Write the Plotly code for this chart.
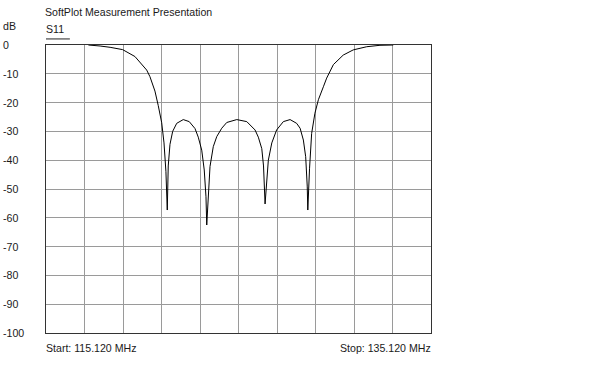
import plotly.graph_objects as go

# Frequency axis (MHz) and S11 magnitude (dB)
freq_mhz = [117.32, 117.67, 117.93, 118.45, 119.10, 119.74, 120.35, 120.52, 120.78, 120.95,
            121.13, 121.25, 121.35, 121.42, 121.47, 121.56, 121.70, 121.91, 122.25, 122.56,
            122.86, 123.03, 123.21, 123.34, 123.43, 123.47, 123.55, 123.64, 123.81, 123.99,
            124.25, 124.51, 125.03, 125.55, 125.98, 126.15, 126.33, 126.42, 126.50, 126.59,
            126.67, 126.85, 127.10, 127.45, 127.80, 128.14, 128.32, 128.49, 128.61, 128.69,
            128.72, 128.81, 128.92, 129.09, 129.27, 129.53, 129.70, 130.05, 130.56, 131.08,
            131.78, 132.47, 133.16]
s11_db = [0.0, -0.1, -0.35, -0.8, -1.6, -4.0, -8.7, -11.0, -16.0, -21.0,
          -27.0, -34.0, -44.0, -57.3, -42.0, -34.5, -30.0, -27.2, -25.9, -26.6,
          -29.0, -32.0, -36.5, -43.4, -52.7, -62.5, -51.5, -42.2, -35.3, -31.8,
          -28.9, -26.9, -25.9, -26.6, -29.5, -32.0, -36.0, -42.0, -55.2, -45.7,
          -40.0, -34.0, -29.5, -26.6, -25.9, -27.2, -28.9, -33.0, -38.8, -49.0,
          -57.3, -43.0, -30.7, -23.7, -19.0, -14.5, -11.5, -6.8, -3.5, -1.7,
          -0.6, -0.1, 0.0]

start_mhz = 115.12
stop_mhz = 135.12
x_ticks = [115.12 + 2 * i for i in range(11)]
y_ticks = [0, -10, -20, -30, -40, -50, -60, -70, -80, -90, -100]
y_tick_labels = [str(v) for v in y_ticks]

FONT = "Liberation Sans, Arial, sans-serif"
TXT = "#1a1a1a"
FS = 10.6

fig = go.Figure()
fig.add_trace(go.Scatter(x=freq_mhz, y=s11_db, mode="lines",
                         line=dict(color="black", width=1), hoverinfo="skip",
                         showlegend=False))

fig.update_layout(
    width=610, height=375,
    margin=dict(l=46, r=179, t=45, b=42),
    paper_bgcolor="white", plot_bgcolor="white",
    font=dict(family=FONT, size=FS, color=TXT),
    xaxis=dict(range=[start_mhz, stop_mhz], tickvals=x_ticks, showticklabels=False,
               showgrid=True, gridcolor="#9a9a9a", gridwidth=1, zeroline=False,
               showline=True, linecolor="#333333", linewidth=1, mirror=True, ticks=""),
    yaxis=dict(range=[-100, 0], tickvals=y_ticks, showticklabels=False,
               showgrid=True, gridcolor="#9a9a9a", gridwidth=1, zeroline=False,
               showline=True, linecolor="#333333", linewidth=1, mirror=True, ticks=""),
)

# y tick labels (left aligned as in the reference)
for v, lab in zip(y_ticks, y_tick_labels):
    fig.add_annotation(x=-0.118, xref="paper", y=v, yref="y", text=lab, showarrow=False,
                       xanchor="left", yanchor="middle", font=dict(size=FS, color=TXT, family=FONT))

# header texts
fig.add_annotation(x=-0.009, xref="paper", y=1.113, yref="paper", text="SoftPlot Measurement Presentation",
                   showarrow=False, xanchor="left", yanchor="middle", font=dict(size=FS, color=TXT, family=FONT))
fig.add_annotation(x=-0.118, xref="paper", y=1.066, yref="paper", text="dB",
                   showarrow=False, xanchor="left", yanchor="middle", font=dict(size=FS, color=TXT, family=FONT))
fig.add_annotation(x=-0.004, xref="paper", y=1.055, yref="paper", text="S11",
                   showarrow=False, xanchor="left", yanchor="middle", font=dict(size=FS, color=TXT, family=FONT))
fig.add_shape(type="line", xref="paper", yref="paper", x0=0.0, x1=0.062, y0=1.021, y1=1.021,
              line=dict(color="#222222", width=1))

# footer texts
fig.add_annotation(x=-0.006, xref="paper", y=-0.052, yref="paper", text=f"Start: {start_mhz:.3f} MHz",
                   showarrow=False, xanchor="left", yanchor="middle", font=dict(size=FS, color=TXT, family=FONT))
fig.add_annotation(x=1.004, xref="paper", y=-0.052, yref="paper", text=f"Stop: {stop_mhz:.3f} MHz",
                   showarrow=False, xanchor="right", yanchor="middle", font=dict(size=FS, color=TXT, family=FONT))

fig.write_html("out.html", config={"displayModeBar": False},
               post_script="document.body.style.margin='0';")
